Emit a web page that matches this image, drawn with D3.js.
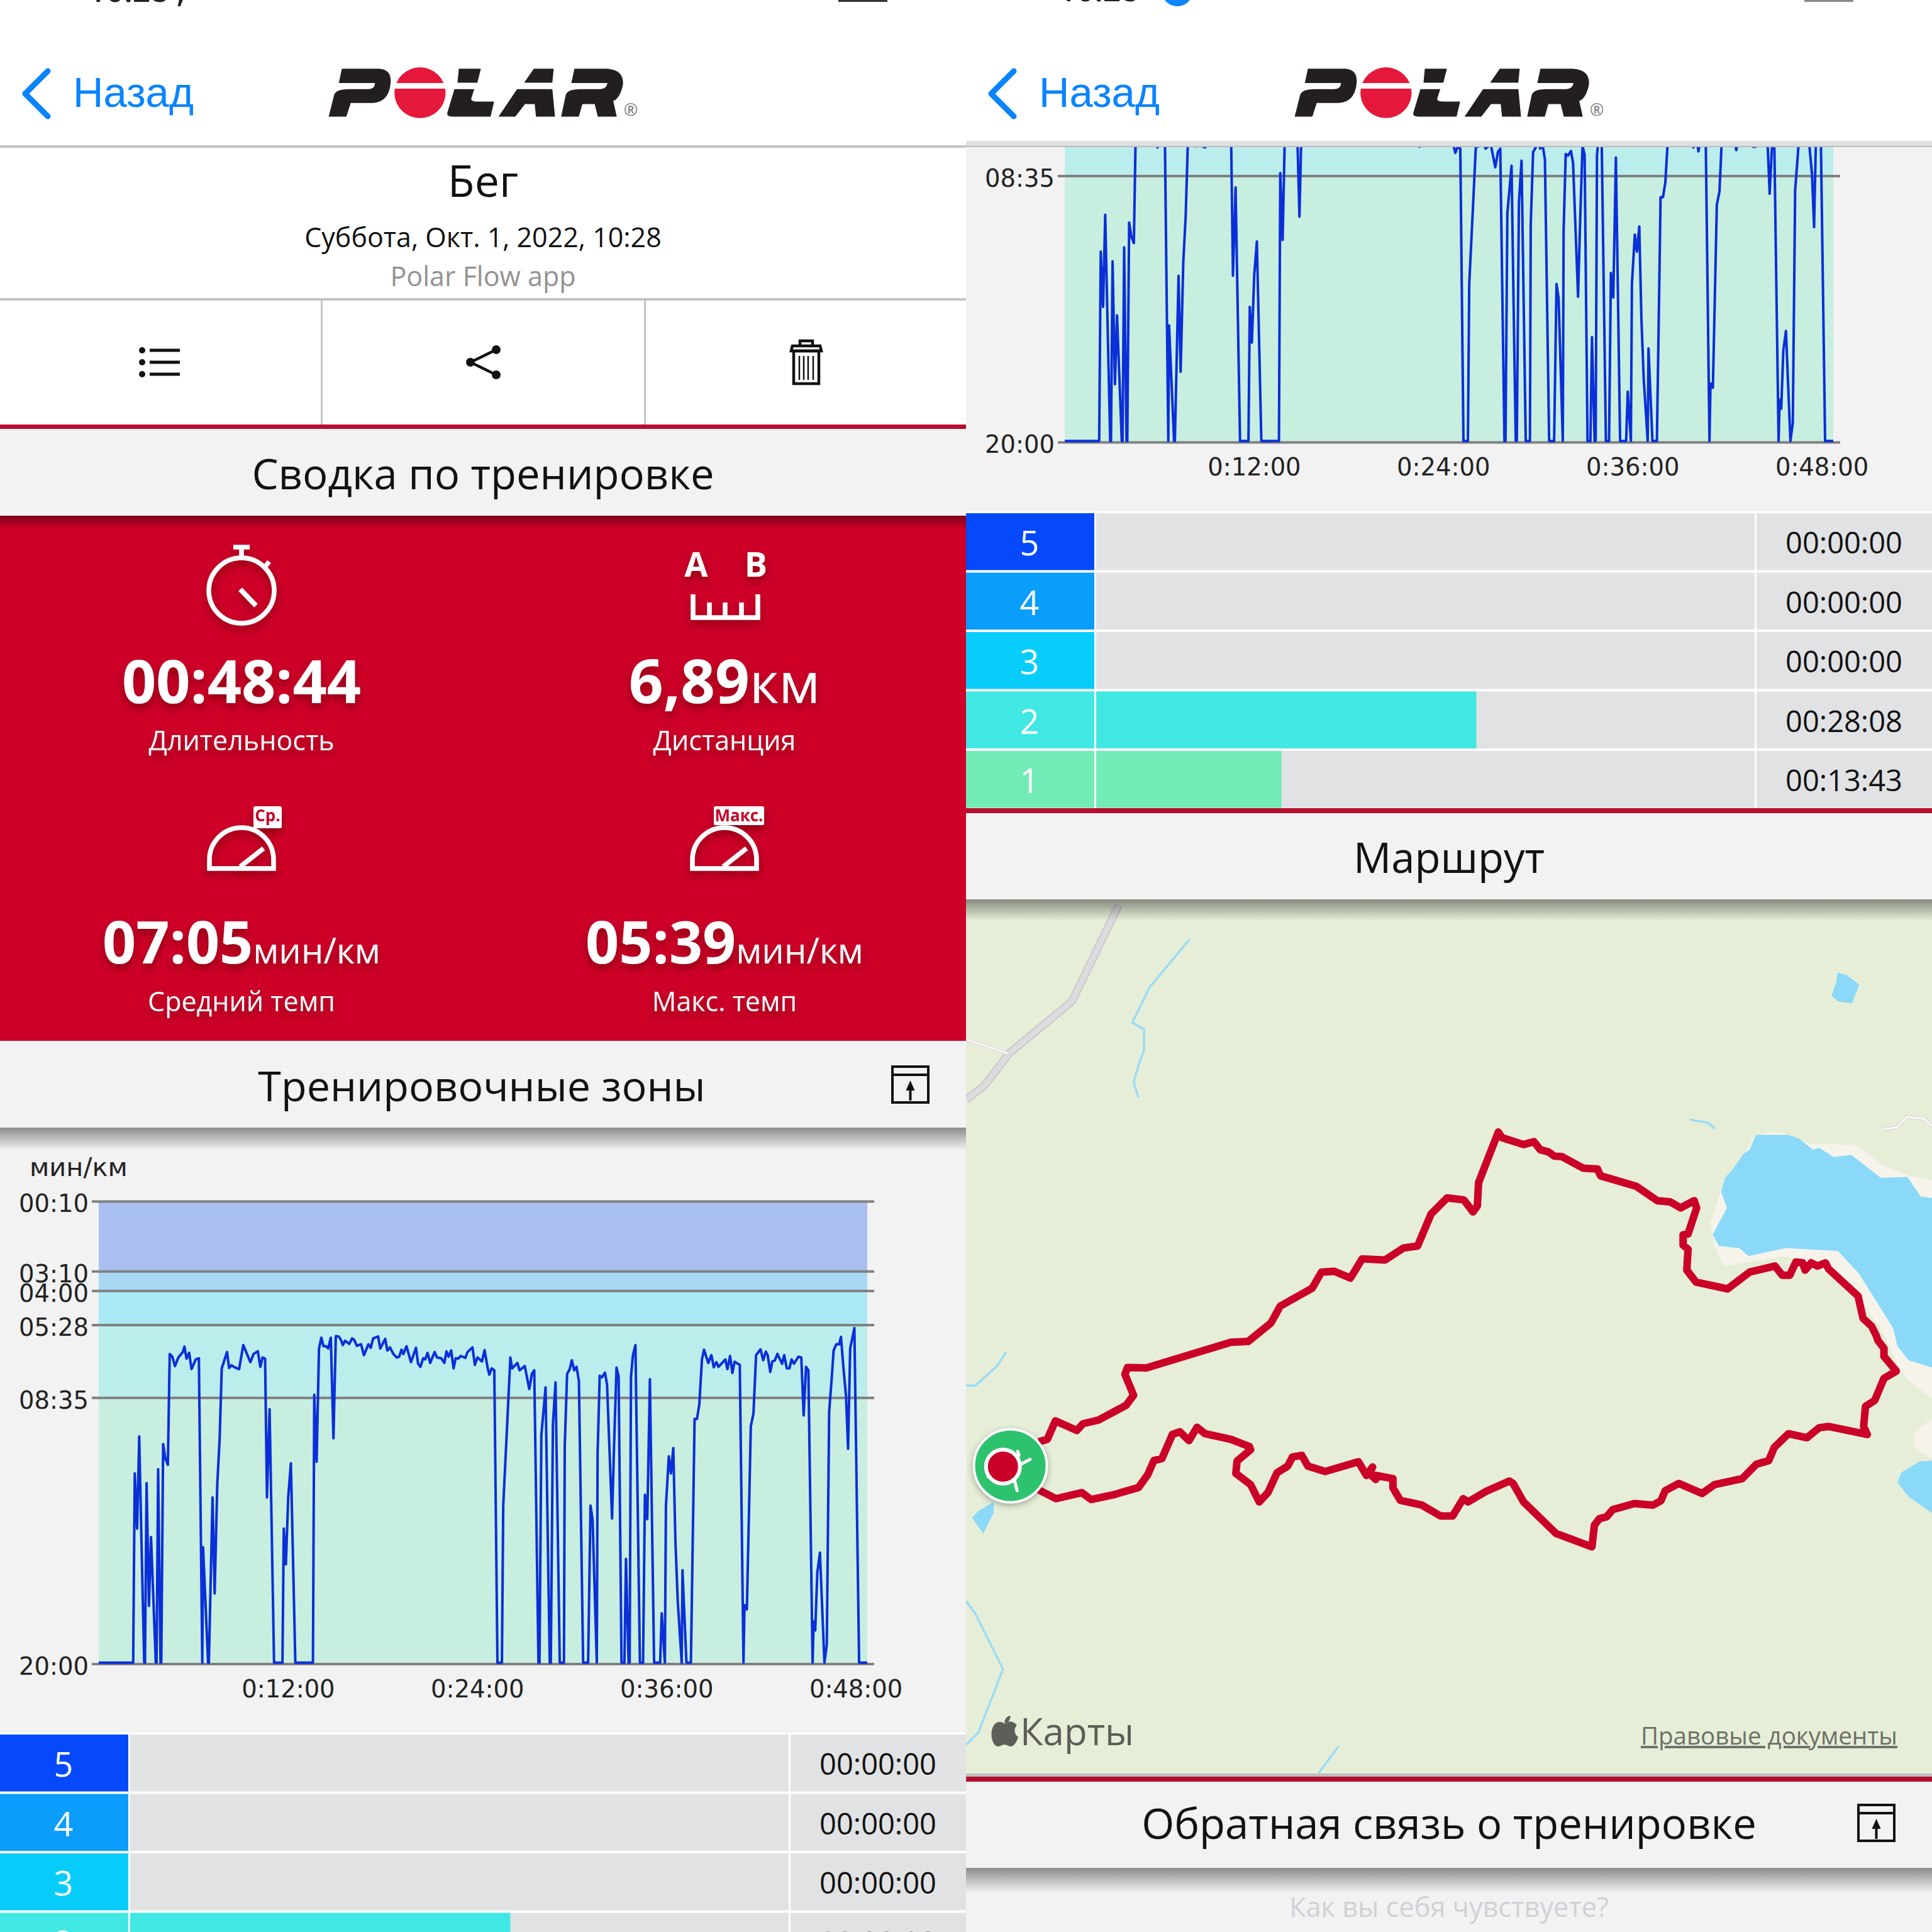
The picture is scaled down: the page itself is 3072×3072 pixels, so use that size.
<!DOCTYPE html>
<html><head><meta charset="utf-8">
<script src="https://cdnjs.cloudflare.com/ajax/libs/d3/7.8.5/d3.min.js"></script>
<style>html,body{margin:0;padding:0;background:#fff}svg{display:block}text{font-family:'Open Sans',sans-serif}</style>
</head><body><div id="c"></div>
<script>
// ---- DATA ----
const totalSeconds = 2924;
const timeTicks = [720,1440,2160,2880];
const timeTickLabels = ["0:12:00","0:24:00","0:36:00","0:48:00"];
const paceTicks = [10,190,240,328,515,1200];
const paceTickLabels = ["00:10","03:10","04:00","05:28","08:35","20:00"];
const zoneEdges = [1200,515,328,240,190,10];
const bandColors = ["#c8eee0","#baedec","#abe8f5","#a9d8f5","#a9bff0"];
const paceTimes = [0,131,137,146,154,164,173,176,182,191,199,217,220,226,235,238,245,254,263,270,280,290,303,320,326,334,344,353,369,381,394,397,416,419,433,441,451,460,468,488,496,505,516,534,550,577,589,605,615,623,633,640,650,667,699,704,712,721,731,748,815,820,829,838,847,855,865,873,883,893,902,913,921,929,937,953,964,972,982,998,1009,1026,1035,1044,1063,1071,1090,1098,1108,1121,1134,1143,1152,1159,1171,1188,1207,1215,1224,1234,1242,1251,1261,1278,1287,1303,1315,1323,1331,1341,1350,1358,1368,1377,1395,1403,1422,1431,1441,1458,1468,1480,1486,1495,1505,1517,1534,1539,1556,1566,1573,1593,1601,1621,1638,1648,1657,1673,1677,1684,1700,1709,1716,1720,1728,1738,1754,1770,1773,1782,1792,1800,1809,1818,1827,1843,1862,1871,1879,1895,1898,1906,1915,1926,1934,1953,1961,1970,1978,1989,2000,2006,2016,2020,2025,2032,2042,2059,2071,2078,2087,2097,2113,2136,2142,2154,2158,2169,2177,2186,2194,2203,2218,2221,2236,2253,2267,2276,2285,2295,2303,2319,2331,2340,2350,2358,2384,2392,2402,2411,2419,2439,2453,2457,2466,2481,2491,2501,2518,2528,2538,2545,2555,2563,2572,2582,2600,2608,2618,2628,2636,2645,2662,2673,2682,2691,2700,2716,2720,2726,2734,2744,2761,2770,2779,2789,2796,2806,2817,2824,2833,2843,2851,2859,2875,2893,2924];
const paceValues = [1197,1197,710,852,615,928,1197,1197,735,1051,874,1197,1197,699,1197,1197,635,673,688,403,410,434,412,398,384,415,400,442,417,414,1197,900,1197,1197,772,1019,738,621,440,398,439,432,437,442,380,424,403,396,436,412,415,772,545,1197,1197,852,944,770,684,1197,1197,508,680,389,361,383,383,389,361,620,357,358,366,380,369,377,363,367,382,378,406,378,387,363,358,389,364,394,386,403,412,410,392,403,383,424,387,428,436,414,417,400,426,398,412,414,426,396,410,394,440,414,415,408,413,398,386,431,412,422,393,440,456,440,445,1197,1197,793,556,412,440,426,445,434,493,454,445,1197,1197,612,489,900,1197,1197,584,476,1197,1197,640,454,442,419,445,436,473,1197,1197,793,830,1197,659,459,463,451,482,826,631,438,461,1197,1197,930,1197,1197,463,408,380,1197,1197,765,828,468,1197,1197,1070,1197,793,666,710,645,882,1040,1197,959,1197,1197,570,570,533,417,392,426,406,437,424,436,417,442,408,452,423,431,1197,1049,1060,589,556,406,391,419,397,406,449,422,420,403,428,406,440,440,417,428,410,412,561,436,445,1197,1091,1114,965,914,1197,1151,552,463,394,378,378,359,436,510,647,389,336,1197,1197];
const zoneNames = ["5","4","3","2","1"];
const zoneSeconds = [0,0,0,1688,823];
const zoneLabels = ["00:00:00","00:00:00","00:00:00","00:28:08","00:13:43"];
const zoneColors = ["#0549fb","#0a9dfb","#08cdfb","#41e8e3","#72ebb7"];
const statValues = ["00:48:44","6,89","07:05","05:39"];
const statUnits = ["","км","мин/км","мин/км"];
const statNames = ["Длительность","Дистанция","Средний темп","Макс. темп"];
const routeX = [118,132,145,180,190,215,260,272,258,262,293,430,458,495,510,562,577,598,624,643,680,710,733,755,781,808,823,830,832,864,870,905,922,932,945,955,967,1002,1025,1030,1088,1122,1143,1160,1182,1186,1172,1164,1164,1172,1170,1185,1236,1272,1313,1325,1337,1347,1358,1362,1372,1382,1395,1400,1448,1456,1470,1478,1480,1490,1490,1510,1490,1475,1460,1457,1463,1400,1385,1365,1335,1312,1303,1283,1260,1215,1195,1157,1135,1128,1115,1085,1050,1040,1028,1020,1016,958,905,888,882,845,815,807,790,770,740,705,693,693,665,665,655,660,650,637,583,555,545,530,522,505,490,476,462,438,440,462,460,430,388,375,362,347,335,318,305,295,280,240,203,188,146,118];
const routeY = [1368,1362,1316,1340,1323,1314,1277,1252,1200,1183,1184,1120,1118,1072,1030,985,945,943,960,912,915,885,880,800,760,765,795,780,722,596,610,627,620,640,645,656,657,686,688,705,731,767,770,785,767,785,850,852,878,888,940,970,987,945,930,953,953,920,922,940,922,930,922,937,1005,1060,1080,1105,1115,1135,1155,1192,1210,1265,1280,1330,1350,1330,1333,1358,1348,1382,1415,1424,1460,1475,1497,1472,1490,1515,1526,1522,1537,1555,1560,1576,1630,1597,1518,1472,1466,1491,1518,1510,1553,1553,1526,1514,1483,1460,1452,1462,1448,1431,1452,1418,1442,1429,1402,1406,1429,1445,1495,1518,1475,1447,1416,1388,1380,1362,1348,1332,1365,1343,1350,1410,1415,1450,1482,1500,1512,1495,1510,1488];
const lakeMain = [[1282,603],[1335,603],[1352,612],[1375,640],[1385,635],[1408,658],[1437,653],[1485,710],[1528,708],[1550,757],[1568,760],[1568,1183],[1530,1165],[1512,1130],[1505,1085],[1450,950],[1415,892],[1330,885],[1270,905],[1255,885],[1222,880],[1212,852],[1235,785],[1226,745],[1232,710],[1245,688],[1262,650],[1272,640]];
const beach = [[1310,595],[1330,600],[1370,625],[1445,628],[1490,680],[1530,705],[1568,716],[1568,1260],[1530,1215],[1510,1170],[1490,1100],[1440,985],[1395,945],[1330,905],[1270,920],[1230,930],[1215,880],[1208,820],[1225,745],[1282,603]];
const beachRight = [[1568,1310],[1540,1345],[1540,1385],[1568,1410]];
const lakes = [[[1415,198],[1430,205],[1450,228],[1438,275],[1415,270],[1405,255],[1412,225]],
 [[1568,1415],[1548,1417],[1518,1445],[1512,1470],[1530,1505],[1568,1546]],
 [[45,1518],[20,1541],[10,1558],[28,1597],[45,1545]]];
const streams = [[[363,115],[298,235],[270,323],[289,340],[289,392],[282,420],[272,472],[280,510]],
 [[1175,565],[1205,573],[1215,587]],
 [[65,1145],[50,1180],[15,1228],[0,1228]],
 [[0,1765],[15,1796],[60,1935],[20,2093],[0,2124]],
 [[605,2127],[572,2195]]];
const roadMain = [[248,30],[172,270],[70,400],[30,480],[0,515]];
const roadSmall = [[[0,365],[68,400]],[[1485,590],[1512,584],[1527,558],[1555,563],[1568,580]]];

// ---- HELPERS ----
const svg = d3.select("#c").append("svg").attr("width",3072).attr("height",3072).attr("viewBox","0 0 3072 3072");
const defs = svg.append("defs");
const sh = defs.append("linearGradient").attr("id","sh").attr("x1",0).attr("x2",0).attr("y1",0).attr("y2",1);
sh.append("stop").attr("offset",0).attr("stop-color","#000").attr("stop-opacity",.42);
sh.append("stop").attr("offset",1).attr("stop-color","#000").attr("stop-opacity",0);
const shText = defs.append("filter").attr("id","ts").attr("x","-20%").attr("y","-30%").attr("width","140%").attr("height","170%");
shText.append("feDropShadow").attr("dx",0).attr("dy",7).attr("stdDeviation",7).attr("flood-color","#500").attr("flood-opacity",.55);
const clipR = defs.append("clipPath").attr("id","clipR"); clipR.append("rect").attr("x",0).attr("y",234).attr("width",1536).attr("height",579);
const clipM = defs.append("clipPath").attr("id","clipM"); clipM.append("rect").attr("x",1536).attr("y",1430).attr("width",1536).attr("height",1392);
const clipL = defs.append("clipPath").attr("id","clipL"); clipL.append("rect").attr("x",0).attr("y",0).attr("width",1536).attr("height",3072);

function rect(g,x,y,w,h,f){return g.append("rect").attr("x",x).attr("y",y).attr("width",w).attr("height",h).attr("fill",f);}
function txt(g,s,x,y,size,fill,opt={}){return g.append("text").attr("x",x).attr("y",y).attr("font-size",size).attr("fill",fill)
  .attr("text-anchor",opt.anchor||"middle").attr("font-weight",opt.weight||400).style("font-family",opt.family||"'Open Sans'").text(s);}

function header(g){
  g.append("path").attr("d","M76,113 L40,149 L76,185").attr("fill","none").attr("stroke","#0a84ff").attr("stroke-width",9).attr("stroke-linecap","round").attr("stroke-linejoin","round");
  txt(g,"Назад",116,170,67,"#0a84ff",{anchor:"start",family:"'Liberation Sans'"});
  const l = g.append("g").attr("transform","translate(0,-2) scale(.7015,.342)");
  const blk="#231f20";
  ["M775,325 L860,325 Q890,330 885,400 Q880,480 845,485 L795,485 L785,548 L745,548 L757,450 Q760,420 790,420 L835,420 Q850,420 850,392 L768,392 Z",
   "M1040,325 L1090,325 L1082,390 L1037,390 Z M1030,420 L1075,420 L1068,465 Q1068,478 1080,478 L1120,478 L1112,548 L1025,548 Q1012,548 1014,530 Z",
   "M1210,325 L1255,325 L1252,390 L1188,390 Z M1172,420 L1252,420 L1258,548 L1215,548 L1212,490 L1190,490 L1168,548 L1130,548 Z",
   "M1302,325 L1375,325 Q1415,330 1412,400 Q1405,465 1390,475 L1398,548 L1355,548 L1348,490 L1320,490 L1312,548 L1272,548 L1282,450 Q1285,420 1315,420 L1360,420 Q1375,420 1377,392 L1295,392 Z"]
    .forEach(d=>l.append("path").attr("d",d).attr("fill",blk));
  l.append("ellipse").attr("cx",952).attr("cy",437).attr("rx",58).attr("ry",118).attr("fill","#e5173a");
  rect(l,890,392,125,26,"#fff");
  txt(g,"®",1003,184,27,"#777");
}
function sectionShadow(g,y,h=36){rect(g,0,y,1536,h,"url(#sh)");}
function exportIcon(g,x,y,w,h){
  const q=g.append("g").attr("fill","none").attr("stroke","#111").attr("stroke-width",4);
  q.append("rect").attr("x",x).attr("y",y).attr("width",w).attr("height",h);
  q.append("line").attr("x1",x).attr("x2",x+w).attr("y1",y+13).attr("y2",y+13);
  const c=x+w/2;
  q.append("line").attr("x1",c).attr("x2",c).attr("y1",y+28).attr("y2",y+h-3);
  g.append("path").attr("d",`M${c},${y+22} L${c+7},${y+38} L${c-7},${y+38} Z`).attr("fill","#111");
}

// ---- CHART ----
function drawChart(g){
  const x = d3.scaleLinear().domain([0,totalSeconds]).range([157,1379]);
  const y = d3.scaleLinear().domain([10,1200]).range([1910,2645.6]);
  bandColors.forEach((c,i)=>{
    rect(g,x(0),y(zoneEdges[i+1]),x(totalSeconds)-x(0),y(zoneEdges[i])-y(zoneEdges[i+1]),c);
  });
  const ya = d3.axisLeft(y).tickValues(paceTicks).tickFormat((d,i)=>paceTickLabels[i]).tickSizeOuter(0);
  const yg = g.append("g").attr("transform","translate(157,0)").call(ya);
  yg.select(".domain").remove();
  yg.selectAll(".tick line").attr("x1",-11).attr("x2",1233).attr("stroke","#808080").attr("stroke-width",4);
  yg.selectAll(".tick text").attr("x",-16).attr("dy",".44em").attr("font-size",38.5).attr("fill","#222").style("font-family","'DejaVu Sans'");
  const line = d3.line().x((d,i)=>x(paceTimes[i])).y(d=>y(d));
  g.append("path").datum(paceValues).attr("d",line).attr("fill","none").attr("stroke","#0a2fd8").attr("stroke-width",4).attr("stroke-linejoin","round");
  const xa = d3.axisBottom(x).tickValues(timeTicks).tickFormat((d,i)=>timeTickLabels[i]).tickSize(0);
  const xg = g.append("g").attr("transform","translate(0,2645.6)").call(xa);
  xg.select(".domain").remove();
  xg.selectAll(".tick text").attr("y",53).attr("dy",0).attr("font-size",38.5).attr("fill","#222").style("font-family","'DejaVu Sans'");
}
function drawTable(g,top){
  const w = d3.scaleLinear().domain([0,totalSeconds]).range([207,1254]);
  zoneNames.forEach((z,i)=>{
    const y0 = top + i*94.5;
    rect(g,0,y0,204,90.5,zoneColors[i]);
    rect(g,207,y0,1329,90.5,"#e1e2e4");
    if(zoneSeconds[i]>0) rect(g,w(0),y0,w(zoneSeconds[i])-w(0),90.5,zoneColors[i]);
    rect(g,1254,y0,3,90.5,"#fff");
    txt(g,z,101,y0+67,54,"#fff");
    txt(g,zoneLabels[i],1396,y0+64,47,"#111");
  });
}

// ---- LEFT PANEL ----
const L = svg.append("g").attr("clip-path","url(#clipL)");
rect(L,0,0,1536,3072,"#fff");
txt(L,"10:28 ;",140,3,50,"#222",{weight:600,anchor:"start"});
rect(L,1333,0,78,3,"#333");
header(L);
rect(L,0,231,1536,4,"#c4c4c4");
txt(L,"Бег",768,313,70,"#111");
txt(L,"Суббота, Окт. 1, 2022, 10:28",768,393,43,"#111");
txt(L,"Polar Flow app",768,455,43,"#929292");
rect(L,0,474,1536,4,"#c4c4c4");
rect(L,510,477,3,200,"#c4c4c4"); rect(L,1024,477,3,200,"#c4c4c4");
// list, share, trash icons
[557,576,595].forEach(y=>{
  L.append("circle").attr("cx",226).attr("cy",y).attr("r",5).attr("fill","#111");
  rect(L,238,y-2.5,48,5,"#111");
});
L.append("path").attr("d","M789,556 L748,576 L789,596").attr("fill","none").attr("stroke","#111").attr("stroke-width",4.5);
[[789,556],[748,576],[789,596]].forEach(p=>L.append("circle").attr("cx",p[0]).attr("cy",p[1]).attr("r",7).attr("fill","#111"));
const tr = L.append("g").attr("fill","none").attr("stroke","#111").attr("stroke-width",4.5);
tr.append("rect").attr("x",1262).attr("y",558).attr("width",40).attr("height",52);
tr.append("path").attr("d","M1258,558 L1260,550 L1304,550 L1306,558 Z M1272,550 V542 H1292 V550");
[1271,1278,1285,1293].forEach(x=>tr.append("line").attr("x1",x).attr("x2",x).attr("y1",566).attr("y2",604).attr("stroke-width",2.5));
rect(L,0,675,1536,7,"#b50f2d");
rect(L,0,682,1536,138,"#f2f2f2");
txt(L,"Сводка по тренировке",768,778,67,"#111");
// red block
rect(L,0,820,1536,835,"#ce0028");
rect(L,0,820,1536,20,"url(#sh)");
const S = L.append("g").attr("filter","url(#ts)");
const sw = S.append("g").attr("fill","none").attr("stroke","#fff").attr("stroke-width",7.5);
sw.append("circle").attr("cx",384).attr("cy",939).attr("r",52);
sw.append("path").attr("d","M384,887 V872 M371,870 H397 M420,903 L428,893");
sw.append("path").attr("d","M382,937 L407,963").attr("stroke-width",8);
txt(S,"A",1107,917,54,"#fff",{weight:700}); txt(S,"B",1202,917,54,"#fff",{weight:700});
const ru = S.append("g").attr("fill","none").attr("stroke","#fff").attr("stroke-width",7.5);
ru.append("path").attr("d","M1102,945 V982 H1205 V945 M1128,958 V982 M1153,958 V982 M1179,958 V982");
[[384,"Ср.",403,45,35],[1152,"Макс.",1135,80,30]].forEach(a=>{
  const q=S.append("g").attr("fill","none").attr("stroke","#fff").attr("stroke-width",7.5);
  q.append("path").attr("d",`M${a[0]-51},1381 H${a[0]+51} V1367 A51,51 0 0 0 ${a[0]-51},1367 Z`);
  q.append("path").attr("d",`M${a[0]+35},1349 L${a[0]-2},1378`);
  S.append("rect").attr("x",a[2]).attr("y",1282).attr("width",a[3]).attr("height",a[4]).attr("rx",3).attr("fill","#fff");
  txt(S,a[1],a[2]+a[3]/2,1306,26,"#c80025",{weight:700});
});
const statPos = [[384,1118,1193],[1152,1118,1193],[384,1532,1608],[1152,1532,1608]];
const statSizes = [95,96,93,93];
statValues.forEach((v,i)=>{
  const p=statPos[i];
  const t=S.append("text").attr("x",p[0]).attr("y",p[1]).attr("text-anchor","middle").attr("fill","#fff");
  t.append("tspan").attr("font-size",statSizes[i]).attr("font-weight",700).text(v);
  if(statUnits[i]) t.append("tspan").attr("font-size",i==1?90:56).text(statUnits[i]);
  txt(S,statNames[i],p[0],p[2],43,"#fff");
});
rect(L,0,1655,1536,1100,"#f2f2f2");
sectionShadow(L,1793);
txt(L,"Тренировочные зоны",766,1751,66.5,"#111");
exportIcon(L,1419,1696,57,57);
txt(L,"мин/км",47,1870,41.5,"#222",{anchor:"start",family:"'DejaVu Sans'"});
drawChart(L);
rect(L,0,2755,1536,3,"#fff");
drawTable(L,2758);

// ---- RIGHT PANEL ----
const R = svg.append("g").attr("transform","translate(1536,0)");
rect(R,0,0,1536,1430,"#fff");
R.append("circle").attr("cx",336).attr("cy",-15).attr("r",25).attr("fill","#0a84ff");
txt(R,"10:28",147,2,50,"#222",{weight:600,anchor:"start"});
rect(R,1333,0,78,3,"#888");
header(R);
rect(R,0,224,1536,10,"#e0e0e0");
rect(R,0,232,1536,2,"#bdbdbd");
rect(R,0,234,1536,579,"#f2f2f2");
const RC = R.append("g").attr("clip-path","url(#clipR)").append("g").attr("transform","translate(0,-1942.6)");
drawChart(RC);
drawTable(R,816);
rect(R,0,1285,1536,8,"#b50f2d");
rect(R,0,1293,1536,137,"#f2f2f2");
txt(R,"Маршрут",768,1388,67,"#111");

// ---- MAP ----
const M = svg.append("g").attr("clip-path","url(#clipM)");
rect(M,1536,1430,1536,1392,"#e6eed8");
const mx = d3.scaleLinear().domain([0,1568]).range([1536,3072]);
const my = d3.scaleLinear().domain([0,1568]).range([1420,2420]);
const pl = d3.line().x(d=>mx(d[0])).y(d=>my(d[1]));
const poly = a => pl(a)+"Z";
M.append("path").attr("d",poly(beach)).attr("fill","#f6f4ea");
M.append("path").attr("d",poly(beachRight)).attr("fill","#f6f4ea");
M.append("path").attr("d",poly(lakeMain)).attr("fill","#8ad9f9");
lakes.forEach(a=>M.append("path").attr("d",poly(a)).attr("fill","#8ad9f9"));
streams.forEach(a=>M.append("path").attr("d",pl(a)).attr("fill","none").attr("stroke","#9adcf6").attr("stroke-width",3.5));
M.append("path").attr("d",pl(roadMain)).attr("fill","none").attr("stroke","#c9c9cb").attr("stroke-width",13);
M.append("path").attr("d",pl(roadMain)).attr("fill","none").attr("stroke","#dcdcdf").attr("stroke-width",9);
roadSmall.forEach(a=>{
  M.append("path").attr("d",pl(a)).attr("fill","none").attr("stroke","#d5d5d7").attr("stroke-width",5);
  M.append("path").attr("d",pl(a)).attr("fill","none").attr("stroke","#fafafa").attr("stroke-width",3);
});
M.append("path").datum(routeX.map((v,i)=>[v,routeY[i]])).attr("d",pl).attr("fill","none").attr("stroke","#cb0029").attr("stroke-width",12).attr("stroke-linejoin","round");
M.append("circle").attr("cx",mx(72)).attr("cy",my(1428)).attr("r",58).attr("fill","#2dc26d").attr("stroke","#fff").attr("stroke-width",4).style("filter","drop-shadow(0 3px 5px rgba(0,0,0,.3))");
M.append("path").attr("d",`M${mx(88)},${my(1425)} L${mx(104)},${my(1412)} M${mx(78)},${my(1460)} L${mx(83)},${my(1490)} M${mx(84)},${my(1392)} L${mx(86)},${my(1402)} M${mx(36)},${my(1455)} L${mx(46)},${my(1462)}`).attr("stroke","#fff").attr("stroke-width",5).attr("stroke-linecap","round");
M.append("circle").attr("cx",mx(60)).attr("cy",my(1430)).attr("r",27).attr("fill","#cb0029").attr("stroke","#fff").attr("stroke-width",6);
// apple logo & labels
M.append("path").attr("d","M1586,2743 C1578,2735 1566,2737 1561,2741 C1556,2737 1544,2736 1538,2745 C1530,2756 1536,2777 1548,2777 C1553,2777 1556,2774 1561,2774 C1566,2774 1569,2777 1574,2777 C1581,2777 1587,2767 1589,2762 C1581,2758 1579,2749 1586,2743 Z M1561,2740 C1561,2733 1566,2729 1573,2728 C1573,2735 1568,2740 1561,2740 Z").attr("fill","#5b5f57").attr("transform","translate(379.7,0) scale(.78,1)");
txt(M,"Карты",1622,2775,60,"#5b5f57",{anchor:"start",weight:500});
txt(M,"Правовые документы",2609,2774,38.5,"#6d7065",{anchor:"start",weight:500}).attr("text-decoration","underline");
// panels over the map
const T = svg.append("g").attr("transform","translate(1536,0)");
sectionShadow(T,1430,34);
rect(T,0,2820,1536,5,"#bdbdbd");
rect(T,0,2825,1536,8,"#b50f2d");
rect(T,0,2833,1536,239,"#f2f2f2");
sectionShadow(T,2970,40);
txt(T,"Обратная связь о тренировке",768,2924,67,"#111");
exportIcon(T,1419,2870,57,57);
txt(T,"Как вы себя чувствуете?",768,3048,43.3,"#d0d1d6");
</script></body></html>
